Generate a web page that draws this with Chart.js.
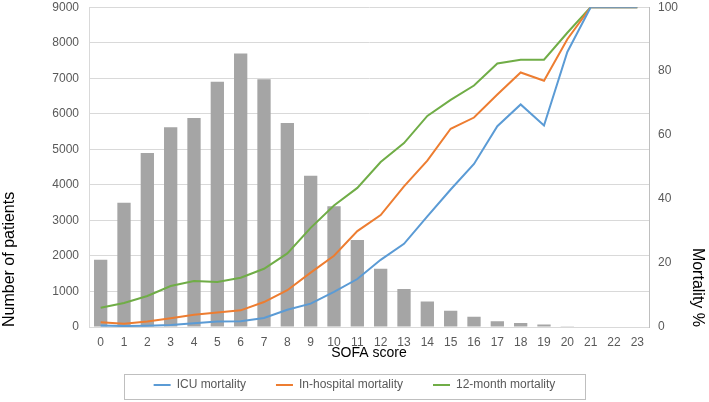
<!DOCTYPE html>
<html>
<head>
<meta charset="utf-8">
<script src="https://cdn.jsdelivr.net/npm/chart.js@4/dist/chart.umd.min.js"></script>
<style>
  html, body { margin: 0; padding: 0; background: #fff; }
  #wrap { width: 709px; height: 402px; }
</style>
</head>
<body>
<div id="wrap"><canvas id="sofaChart"></canvas></div>
<script>
const sofaScores = ["0","1","2","3","4","5","6","7","8","9","10","11","12","13","14","15","16","17","18","19","20","21","22","23"]
const patients = [1890, 3500, 4900, 5620, 5880, 6900, 7700, 6970, 5740, 4260, 3400, 2450, 1640, 1070, 720, 460, 290, 160, 110, 70, 20, 15, 15, 15]
const icuMortality = [0.5, 0.3, 0.4, 0.6, 1.2, 1.7, 1.8, 2.8, 5.4, 7.3, 11, 15, 21, 26, 34.6, 43, 51, 62.8, 69.6, 63, 86, 100, 100, 100]
const hospitalMortality = [1.5, 1.0, 1.7, 2.7, 3.8, 4.5, 5.2, 7.8, 11.5, 17, 22.3, 30, 35, 44, 52, 62, 65.5, 72.7, 79.6, 77, 90, 100, 100, 100]
const yearMortality = [6, 7.5, 9.7, 12.8, 14.4, 14.1, 15.4, 18.2, 23, 31, 38, 43.5, 51.6, 57.5, 66, 71, 75.5, 82.4, 83.6, 83.6, 92, 100, 100, 100]

const fontFamily = "'Liberation Sans', Arial, sans-serif"
const tickColor = "#595959"
const gridColor = "#D9D9D9"

// thin frame round the legend, as in the original figure
const legendFrame = {
  id: "legendFrame",
  afterDraw(chart) {
    const boxes = chart.legend.legendHitBoxes
    if (!boxes || !boxes.length) return
    const first = boxes[0], last = boxes[boxes.length - 1]
    const ctx = chart.ctx
    ctx.save()
    ctx.strokeStyle = "#BFBFBF"
    ctx.lineWidth = 1
    const left = Math.round(first.left - 30) + 0.5
    const right = Math.round(last.left + last.width + 30) + 0.5
    const top = Math.round(first.top - 5) + 0.5
    ctx.strokeRect(left, top, right - left, 25)
    ctx.restore()
  }
}

const lineDataset = (label, data, color) => ({
  type: "line",
  label,
  data,
  yAxisID: "y1",
  borderColor: color,
  backgroundColor: color,
  borderWidth: 2,
  pointRadius: 0,
  tension: 0,
  order: 1
})

new Chart(document.getElementById("sofaChart"), {
  type: "bar",
  data: {
    labels: sofaScores,
    datasets: [
      lineDataset("ICU mortality", icuMortality, "#5B9BD5"),
      lineDataset("In-hospital mortality", hospitalMortality, "#ED7D31"),
      lineDataset("12-month mortality", yearMortality, "#70AD47"),
      {
        label: "Number of patients",
        data: patients,
        yAxisID: "y",
        backgroundColor: "#A5A5A5",
        barPercentage: 0.57,
        categoryPercentage: 1,
        order: 2
      }
    ]
  },
  options: {
    responsive: true,
    maintainAspectRatio: false,
    animation: false,
    layout: { padding: { top: 0, left: 0, right: 0, bottom: 1 } },
    plugins: {
      tooltip: { enabled: false },
      legend: {
        position: "bottom",
        labels: {
          filter: item => item.text !== "Number of patients",
          usePointStyle: true,
          pointStyle: "line",
          pointStyleWidth: 17,
          boxHeight: 2,
          color: tickColor,
          padding: 30,
          font: { family: fontFamily, size: 12 }
        }
      }
    },
    scales: {
      x: {
        grid: { display: false, drawTicks: false },
        border: { color: gridColor },
        ticks: { color: tickColor, font: { family: fontFamily, size: 12 }, padding: 8, maxRotation: 0, autoSkip: false },
        title: { display: true, text: "SOFA score", color: "#000", padding: { top: 0, bottom: -13 }, font: { family: fontFamily, size: 14 } },
        afterFit(scale) { scale.height = 22 }
      },
      y: {
        position: "left",
        min: 0,
        max: 9000,
        grid: { color: gridColor, tickLength: 10, tickColor: "rgba(0,0,0,0)" },
        border: { color: gridColor },
        ticks: { stepSize: 1000, color: tickColor, padding: 0, font: { family: fontFamily, size: 12 }, callback: v => String(v) },
        title: { display: true, text: "Number of patients", align: "start", color: "#000", padding: { top: 0 }, font: { family: fontFamily, size: 16 } },
        afterFit(scale) { scale.width = 89 }
      },
      y1: {
        position: "right",
        min: 0,
        max: 100,
        grid: { drawOnChartArea: false, tickLength: 9, tickColor: "rgba(0,0,0,0)" },
        border: { color: "#BFBFBF" },
        ticks: { stepSize: 20, color: tickColor, padding: 0, font: { family: fontFamily, size: 12 }, callback: v => String(v) },
        title: { display: true, text: "Mortality %", align: "start", color: "#000", padding: { top: 2 }, font: { family: fontFamily, size: 16 } },
        afterFit(scale) { scale.width = 60 }
      }
    }
  },
  plugins: [legendFrame]
})
</script>
</body>
</html>
